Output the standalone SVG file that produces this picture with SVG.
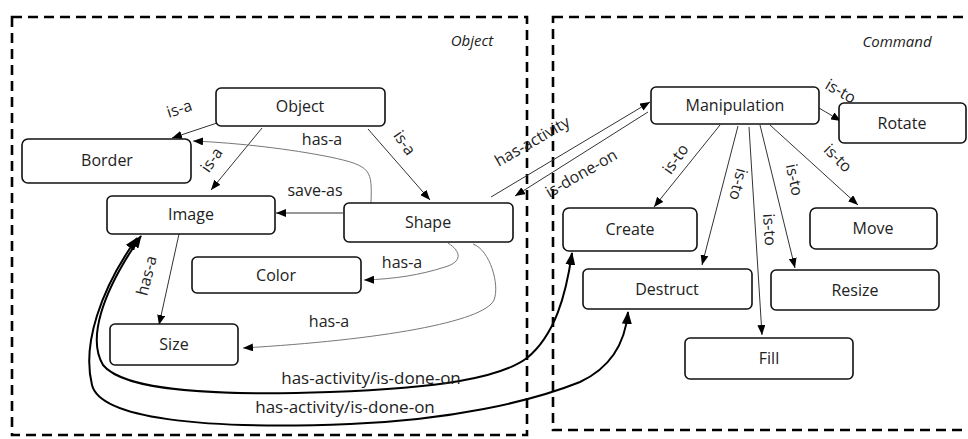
<svg xmlns="http://www.w3.org/2000/svg" width="968" height="439" viewBox="0 0 968 439">
<defs>
<marker id="a" markerUnits="userSpaceOnUse" markerWidth="10" markerHeight="8" refX="10" refY="4" orient="auto-start-reverse"><path d="M0,0 L10,4 L0,8 z" fill="#000"/></marker>
<marker id="b" markerUnits="userSpaceOnUse" markerWidth="13" markerHeight="10" refX="12" refY="5" orient="auto-start-reverse"><path d="M0,0 L13,5 L0,10 z" fill="#000"/></marker>
</defs>
<style>
.n rect{fill:#fff;stroke:#111;stroke-width:1.6}
.n text{font-family:"Open Sans","Liberation Sans",sans-serif;font-size:16px;fill:#222;text-anchor:middle}
.grp{fill:none;stroke:#000;stroke-width:2.6;stroke-dasharray:10,6}
.gl{font-family:"Open Sans","Liberation Sans",sans-serif;font-size:15px;font-style:italic;fill:#222;text-anchor:middle}
.e{fill:none;stroke:#333;stroke-width:1;marker-end:url(#a)}
.g{stroke:#777}
.k{fill:none;stroke:#000;stroke-width:2;marker-start:url(#b);marker-end:url(#b)}
.l{font-family:"Open Sans","Liberation Sans",sans-serif;font-size:16px;fill:#222;text-anchor:middle}
.ll{font-size:17px}
</style>
<rect width="968" height="439" fill="#fff"/>
<g id="groups">
<rect class="grp" x="12" y="17" width="515" height="418"/>
<text class="gl" x="472" y="46">Object</text>
<rect class="grp" x="553" y="17" width="430" height="413"/>
<text class="gl" x="897" y="47">Command</text>
</g>
<g id="connectors">
<path class="e" d="M217,123 L172,138"/>
<text class="l" transform="translate(181,114) rotate(-18)">is-a</text>
<path class="e" d="M262,128 L211,190"/>
<text class="l" transform="translate(216,163) rotate(-55)">is-a</text>
<path class="e" d="M368,129 L430,200"/>
<text class="l" transform="translate(400,146) rotate(55)">is-a</text>
<path class="e g" d="M371,203 C372,170 372,166 330,157 C290,149 240,143 193,141"/>
<text class="l" x="322" y="145">has-a</text>
<path class="e" d="M343,213 L276,213"/>
<text class="l" x="315" y="196">save-as</text>
<path class="e" d="M491,197 L650,102"/>
<text class="l" transform="translate(535,146) rotate(-30)">has-activity</text>
<path class="e" d="M648,112 L515,196"/>
<text class="l" transform="translate(584,178) rotate(-30)">is-done-on</text>
<path class="e" d="M819,108 L841,121"/>
<text class="l" transform="translate(838,96) rotate(30)">is-to</text>
<path class="e" d="M720,125 L654,207"/>
<text class="l" transform="translate(680,162) rotate(-55)">is-to</text>
<path class="e" d="M738,126 L702,265"/>
<text class="l" transform="translate(733,183) rotate(104)">is-to</text>
<path class="e" d="M749,127 L762,335"/>
<text class="l" transform="translate(764,230) rotate(86)">is-to</text>
<path class="e" d="M760,125 L795,268"/>
<text class="l" transform="translate(789,181) rotate(78)">is-to</text>
<path class="e" d="M770,125 L858,205"/>
<text class="l" transform="translate(834,162) rotate(45)">is-to</text>
<path class="e" d="M179,234 L159,325"/>
<text class="l" transform="translate(152,277) rotate(-76)">has-a</text>
<path class="e g" d="M448,243 C462,252 462,262 445,267 C420,275 395,279 364,280"/>
<text class="l" x="402" y="268">has-a</text>
<path class="e g" d="M473,244 C490,250 500,285 494,300 C484,322 380,340 243,348"/>
<text class="l" x="329" y="327">has-a</text>
<path class="k" d="M572,253 C566,295 555,335 527,358 C500,378 440,388 330,392 C220,396 125,392 103,365 C88,340 100,295 141,236"/>
<text class="l ll" x="371" y="384">has-activity/is-done-on</text>
<path class="k" d="M628,312 C625,345 610,368 580,382 C530,402 450,420 350,424 C200,430 100,418 92,385 C82,345 100,290 137,238"/>
<text class="l ll" x="345" y="413">has-activity/is-done-on</text>
</g>
<g id="object" class="n"><rect x="216" y="88" width="169" height="38" rx="5"/><text x="300" y="112">Object</text></g>
<g id="border" class="n"><rect x="22" y="139" width="169" height="44" rx="6"/><text x="107" y="166">Border</text></g>
<g id="image" class="n"><rect x="107" y="196" width="168" height="38" rx="5"/><text x="191" y="220">Image</text></g>
<g id="shape" class="n"><rect x="344" y="203" width="169" height="39" rx="5"/><text x="428" y="228">Shape</text></g>
<g id="color" class="n"><rect x="192" y="257" width="169" height="36" rx="5"/><text x="276" y="281">Color</text></g>
<g id="size" class="n"><rect x="110" y="324" width="128" height="41" rx="5"/><text x="174" y="350">Size</text></g>
<g id="manipulation" class="n"><rect x="651" y="87" width="168" height="37" rx="5"/><text x="735" y="111">Manipulation</text></g>
<g id="rotate" class="n"><rect x="839" y="103" width="127" height="40" rx="5"/><text x="902" y="129">Rotate</text></g>
<g id="create" class="n"><rect x="563" y="208" width="134" height="43" rx="6"/><text x="630" y="235">Create</text></g>
<g id="move" class="n"><rect x="810" y="208" width="127" height="41" rx="6"/><text x="873" y="234">Move</text></g>
<g id="destruct" class="n"><rect x="583" y="269" width="169" height="40" rx="5"/><text x="667" y="295">Destruct</text></g>
<g id="resize" class="n"><rect x="771" y="270" width="168" height="40" rx="5"/><text x="855" y="296">Resize</text></g>
<g id="fill" class="n"><rect x="685" y="338" width="168" height="41" rx="5"/><text x="769" y="364">Fill</text></g>
</svg>
